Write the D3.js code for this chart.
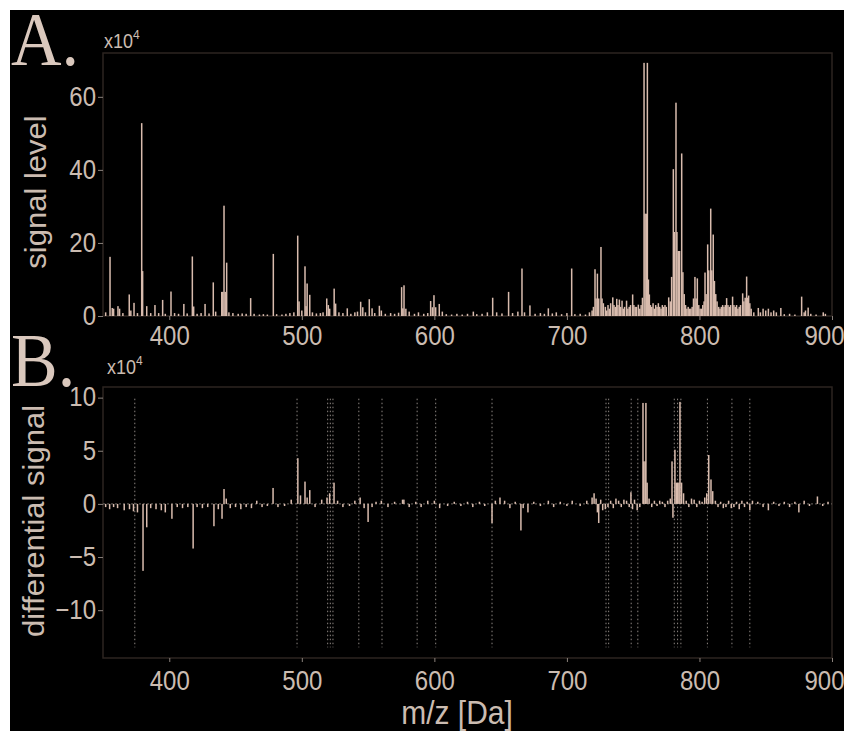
<!DOCTYPE html>
<html>
<head>
<meta charset="utf-8">
<script src="https://cdn.jsdelivr.net/npm/d3@7"></script>
<style>
  body { margin: 0; background: #fff; }
  svg { display: block; }
</style>
</head>
<body>
<div id="chart"></div>
<script>
// peaks of the spectrum, [m/z, signal x10^4]
const spectrumPeaks = [
  [352,1.0],[355.3,16.2],[357,2.2],[358,2.0],[361.3,2.7],[362.5,2.0],[365,0.8],[369.8,5.9],[371,1.5],[373.4,3.6],
  [376,0.8],[379.2,52.8],[379.9,12.3],[383,2.7],[386,0.8],[389.2,3.0],[392,0.8],[395,4.4],[397,0.6],[401.3,6.7],
  [404,0.8],[407,0.6],[411,3.3],[413.5,0.7],[417.4,16.3],[418.4,2.6],[421,0.6],[424,0.8],[427,3.3],[430,0.7],
  [433.2,9.2],[435,1.2],[439.6,6.6],[440.4,6.6],[441.3,30.2],[442.2,6.6],[443.3,14.6],[445,1.0],[448,0.8],[452,0.6],
  [455,0.7],[458,0.6],[461.4,4.9],[464,0.6],[468,0.4],[471,0.5],[474,0.4],[478.5,17],[481,0.5],[485,0.4],
  [488,0.6],[491,0.8],[494,1.0],[496.9,22],[497.9,4],[500,1.5],[502.4,13.6],[503.2,2.7],[504,8.9],[506,5.8],
  [508,1.0],[511,0.7],[514,0.8],[516,1.0],[518.8,4.8],[520,3.0],[521,2.0],[524.4,7.5],[525.5,3.4],[528,1.0],
  [531,0.8],[534.3,2.1],[537,0.6],[540,1.0],[542,1.2],[544.4,3.9],[546,2.4],[548,1.0],[550.9,4.6],[553,2.1],
  [555,0.8],[558.5,2.8],[560,1.5],[563,0.6],[567,0.8],[570,0.6],[573,0.9],[575.3,7.9],[576.2,2.1],[577.1,8.4],
  [578.5,2.0],[581,1.2],[585,0.6],[588,1.0],[592,0.6],[595,0.8],[597.2,4.1],[598.5,2.4],[599.7,5.7],[601,2.4],
  [603.7,3.3],[606,1.2],[609,0.5],[613,0.4],[617,0.6],[621,0.4],[625,0.6],[629.4,1.2],[632,0.5],[636,0.6],
  [640,1.0],[644,5.0],[647,1.0],[651,0.7],[656,6.6],[659,0.8],[663,1.2],[666.1,13],[668,1.0],[672.1,2.9],
  [676,0.6],[680,0.8],[683,0.6],[686,2.1],[689,0.7],[692,1.0],[696,0.5],[700,0.8],[703.6,13],[706,0.5],
  [710,0.6],[714,0.4],[717,1.0],
  [719,1.5],[720,2.5],[721.2,12.8],[722,4.8],[723,11.6],[724,4.8],[725.7,18.9],[726.5,4.8],[727.5,3.5],[729,2.5],
  [730,1.5],[731,3.0],[732,2.0],[733,3.5],[734.6,5.1],[735.5,3.0],[736.5,2.5],[737.6,4.7],[738.5,3.0],[739.6,4.5],
  [740.5,2.5],[741.6,4.2],[742.5,2.0],[743.5,2.5],[745,4.2],[746,2.0],[747,2.5],[748,3.0],[749.6,5.9],[750.5,3.0],
  [751.5,2.5],[752.5,2.5],[753.9,3.1],[755,2.0],[756,3.0],[757,5.0],[758.2,69.3],[759,28],[760,28],[760.7,69.3],
  [761.5,10],[762.2,5.9],[763,3.0],[764,2.5],[765,3.5],[766,2.0],[767,3.0],[768,2.5],[769,3.5],[770,2.5],
  [771,2.0],[772,3.0],[773,2.5],[774,3.0],[775,2.5],[776.8,5.1],[778,4.0],[779,10.7],[780.3,40.2],[781,23],
  [782.3,58.4],[783,23],[784,17.8],[785,17.8],[786.6,44.5],[787.5,12],[788.5,6],[789.5,3.0],[790.5,2.0],[791.5,2.5],
  [792.5,2.0],[793.5,2.0],[794.5,2.5],[795.5,4.8],[796.6,10.7],[797.5,4.8],[798.4,10.3],[799.5,3.0],[800.5,2.0],[801.5,2.0],
  [802.5,3.0],[803.5,4.0],[804.2,11.9],[805,6],[806.2,19.6],[807,12.5],[808.5,29.4],[809.3,12.5],[810.4,22.3],[811.3,9.6],
  [812.3,6.0],[813.3,4.0],[814.5,2.5],[815.5,2.0],[816.5,2.5],[817.5,3.0],[818.5,2.5],[819.5,3.0],[820.5,4.9],[821.5,3.0],
  [822.5,2.5],[823.5,3.0],[825,5.3],[826,3.0],[827,2.5],[828,3.0],[829,2.0],[830,2.5],[831,3.0],[832.6,6.2],
  [833.5,4.0],[834.5,5.0],[835.6,10.8],[836.3,5.0],[837.1,5.6],[838,3.5],[839,2.0],[841,1.0],[844.4,2.2],[846,1.0],
  [848,2.0],[850,1.5],[852,2.0],[854,1.0],[856,1.5],[858,1.0],[861.4,2.2],[864,0.5],[868,0.6],[872,0.4],
  [877.1,5.3],[879,1.0],[880,1.5],[882,2.3],[884,0.6],[888,0.4],[893.4,1.0],[895,0.6]
];

// differential signal, [m/z, diff x10^4]
const diffPeaks = [
  [352,-0.3],[355,-0.5],[358,-0.3],[361,-0.4],[366,-0.6],[370,-0.5],[373,-0.7],[376,-0.8],[380.2,-6.3],[383,-2.2],
  [386,-0.4],[390,-0.5],[394,-0.6],[397,-0.8],[402,-1.4],[406,-0.3],[410,-0.4],[414,-0.3],[418,-4.2],[421,-0.3],
  [425,-0.4],[429,-0.3],[433.7,-2.1],[437,-0.5],[439.8,-1.4],[441.3,1.4],[443,0.5],[446,-0.4],[450,-0.3],[454,-0.5],
  [458,-0.3],[462,-0.4],[466,0.3],[470,-0.3],[474,-0.2],[478.3,1.5],[482,-0.3],[487,-0.2],[492,0.4],[497,4.3],
  [499,0.8],[502.4,2.1],[504,0.6],[506,1.3],[510,-0.3],[515,0.4],[519,0.6],[521,1.0],[524.3,2.0],[527,0.3],
  [531,-0.3],[536,-0.2],[540,0.3],[544,0.6],[547,-0.4],[550,-1.7],[553,-0.3],[556,0.2],[560,0.3],[565,-0.3],
  [570,0.2],[576,0.4],[577,0.4],[581,-0.3],[586,0.2],[590,-0.3],[595,0.3],[600,0.3],[604,-0.4],[610,-0.2],
  [615,0.2],[620,-0.2],[625,0.2],[629,-0.3],[634,0.2],[638,-0.2],[643.5,-1.8],[646,0.3],[649.5,0.6],[653,0.3],
  [657,-0.4],[661,0.2],[665.3,-2.5],[667,-0.4],[670.6,-0.8],[675,0.2],[680,-0.2],[686,0.3],[690,-0.3],[695,0.2],
  [700,-0.2],[704,0.3],[710,-0.2],[715,0.3],
  [719,0.6],[720.5,1.0],[722,0.5],[723,-0.8],[724,-1.8],[725.5,0.4],[727,-0.6],[729,-0.5],[731,-0.3],[733,0.3],
  [735,-0.4],[737,0.5],[739,0.3],[741,-0.3],[743,0.4],[745,0.3],[747,-0.3],[748.3,1.1],[749.5,-0.5],[751,0.4],
  [753,-0.6],[755,-0.3],[757.4,9.5],[758,4],[759,4],[759.6,9.5],[760.5,2.0],[762,0.5],[764,-0.3],[766,0.3],
  [768,-0.2],[770,0.3],[772,0.2],[774,-0.3],[776,0.3],[778,0.5],[779.3,4.0],[780,-1.3],[781.5,5.1],[782.5,2.0],
  [783.5,2.0],[784.5,2.0],[785.3,9.6],[786.5,2.0],[788,1.0],[790,0.3],[792,-0.3],[794,0.5],[796,0.4],[798,-0.3],
  [800,0.3],[802,0.2],[804,0.6],[805.5,1.0],[807,4.6],[808.7,2.3],[810,1.2],[812,0.3],[814,-0.3],[816,0.2],
  [818,-0.4],[820,-0.3],[822,0.3],[824,-0.4],[826,-0.3],[828,0.2],[830,-0.5],[832,0.3],[834,-0.3],[836,0.2],
  [838,-0.6],[840,0.3],[844,0.2],[848,-0.3],[852,-0.6],[856,0.2],[860,-0.2],[864,0.2],[868,-0.3],[872,0.2],
  [875,-0.8],[879,0.3],[883,-0.2],[889,0.7],[893,-0.2],[897,0.2]
];

// m/z of the marked (dotted) lines in panel B
const markedMz = [374, 496.4, 519.5, 521.5, 523.5, 543, 560.5, 587, 601, 643.5,
  729.5, 731.5, 748.5, 753.5, 781, 783.5, 786, 806, 824.5, 838];

const xDomain = [350, 900];
const xTicks = [400, 500, 600, 700, 800, 900];
const yTicksA = [0, 20, 40, 60];
const yTicksB = [-10, -5, 0, 5, 10];

const W = 851, H = 731;
const barColor = '#d9bcae';
const textColor = '#cbbcb1';
const frameColor = '#2c2521';
const sansFont = '"Liberation Sans", Arial, sans-serif';

const svg = d3.select('#chart').append('svg').attr('width', W).attr('height', H);
svg.append('rect').attr('x', 10).attr('y', 10).attr('width', 834).attr('height', H - 10).attr('fill', '#000');

const x = d3.scaleLinear().domain(xDomain).range([103, 832]);
const yA = d3.scaleLinear().domain([0, 72]).range([316, 53]);
const yB = d3.scaleLinear().domain([-14.5, 11]).range([658, 387]);

function drawFrame(y) {
  svg.append('rect')
    .attr('x', x.range()[0]).attr('y', y.range()[1])
    .attr('width', x.range()[1] - x.range()[0])
    .attr('height', y.range()[0] - y.range()[1])
    .attr('fill', 'none').attr('stroke', frameColor).attr('stroke-width', 1.5);
}

function styleAxis(g) {
  g.select('.domain').remove();
  g.selectAll('line').attr('stroke', '#8a817b');
  g.selectAll('text').attr('fill', textColor).attr('font-family', sansFont).attr('font-size', 24);
}

function drawAxes(y, yTicks, xLabelY) {
  const gy = svg.append('g').attr('transform', `translate(${x.range()[0]},0)`)
    .call(d3.axisLeft(y).tickValues(yTicks).tickSize(5).tickPadding(2));
  styleAxis(gy);
  gy.selectAll('text').attr('transform', 'scale(1,1.15)').attr('dy', '0.3em');

  const gx = svg.append('g').attr('transform', `translate(0,${y.range()[0]})`)
    .call(d3.axisBottom(x).tickValues(xTicks).tickSize(4));
  styleAxis(gx);
  gx.selectAll('text').attr('y', xLabelY).attr('dy', 0).attr('transform', 'scale(1,1.16)');
  // last label sits flush with the right edge of the figure
  gx.selectAll('text').filter(d => d === xDomain[1]).attr('text-anchor', 'end').attr('x', 12);
}

function drawBars(data, y) {
  const w = Math.max(1.5, x(1.5) - x(0.5));
  svg.append('g').selectAll('rect').data(data).join('rect')
    .attr('x', d => x(d[0]) - w / 2)
    .attr('width', w)
    .attr('y', d => Math.min(y(d[1]), y(0)))
    .attr('height', d => Math.max(0.8, Math.abs(y(d[1]) - y(0))))
    .attr('fill', barColor);
}

function scaleText(px, py, sx, sy, rot) {
  return svg.append('g').attr('transform', `translate(${px},${py}) rotate(${rot || 0}) scale(${sx},${sy})`)
    .append('text').attr('fill', textColor).attr('font-family', sansFont);
}

function exponentLabel(px, py) {
  const t = scaleText(px, py, 1, 1.1).attr('font-size', 18);
  t.append('tspan').text('x10');
  t.append('tspan').attr('font-size', 12).attr('dy', -8).text('4');
}

// panel A
drawFrame(yA);
drawBars(spectrumPeaks, yA);
drawAxes(yA, yTicksA, 25);
exponentLabel(104, 48);
scaleText(46, 192, 1.07, 1, -90).attr('font-size', 29).attr('text-anchor', 'middle').text('signal level');

// panel B
drawFrame(yB);
svg.append('line').attr('x1', x(350)).attr('x2', x(900)).attr('y1', yB(0)).attr('y2', yB(0))
  .attr('stroke', '#6f6863').attr('stroke-width', 1).attr('stroke-dasharray', '2,2');
svg.append('g').selectAll('line').data(markedMz).join('line')
  .attr('x1', d => x(d)).attr('x2', d => x(d))
  .attr('y1', yB(9.9)).attr('y2', yB(-13.5))
  .attr('stroke', '#8c8580').attr('stroke-width', 1).attr('stroke-dasharray', '1.5,2.5');
drawBars(diffPeaks, yB);
drawAxes(yB, yTicksB, 28);
exponentLabel(107, 374);
scaleText(44, 521, 1.07, 1, -90).attr('font-size', 29).attr('text-anchor', 'middle').text('differential signal');
scaleText(457, 724, 1, 1.12).attr('font-size', 30).attr('text-anchor', 'middle').text('m/z [Da]');

// panel letters
const serif = '"Liberation Serif", "Times New Roman", serif';
scaleText(11, 65, 1, 1.08).attr('font-family', serif).attr('font-size', 70).attr('fill', '#dac8bd').text('A.');
scaleText(11, 386, 1, 1.08).attr('font-family', serif).attr('font-size', 70).attr('fill', '#dac8bd').text('B.');
</script>
</body>
</html>
